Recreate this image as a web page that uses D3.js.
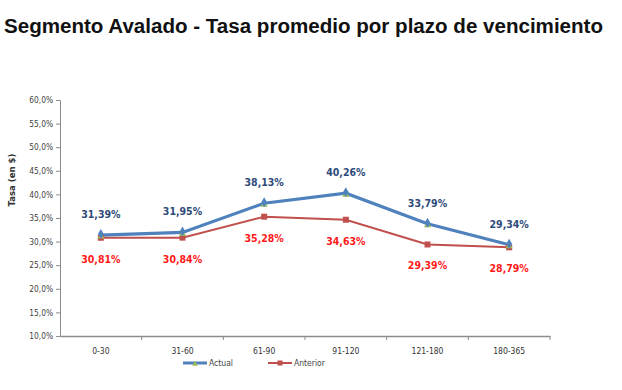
<!DOCTYPE html>
<html><head><meta charset="utf-8">
<script src="https://cdn.jsdelivr.net/npm/d3@7"></script>
<style>body{margin:0;background:#fff}svg{display:block}</style>
</head><body>
<script>
const categories = ["0-30","31-60","61-90","91-120","121-180","180-365"];
const actual = [31.39, 31.95, 38.13, 40.26, 33.79, 29.34];
const anterior = [30.81, 30.84, 35.28, 34.63, 29.39, 28.79];
const yTicks = [10,15,20,25,30,35,40,45,50,55,60];
const seriesNames = ["Actual","Anterior"];

const W=622,H=390;
const svg=d3.select("body").append("svg").attr("width",W).attr("height",H);
const fmt = v => d3.format(".1f")(v).replace(".",",")+"%";
const fmt2 = v => d3.format(".2f")(v).replace(".",",")+"%";

svg.append("text").attr("x",4).attr("y",33).attr("font-family","Liberation Sans, Arial, sans-serif")
  .attr("font-weight","bold").attr("font-size",20).attr("fill","#111")
  .attr("textLength",599).attr("lengthAdjust","spacingAndGlyphs")
  .text("Segmento Avalado - Tasa promedio por plazo de vencimiento");

const x=d3.scaleBand().domain(categories).range([60,550]);
const y=d3.scaleLinear().domain([10,60]).range([336,100]);
const axisCol="#8c8c8c";
const smallFont="Liberation Sans Narrow, DejaVu Sans Condensed, Arial Narrow, sans-serif";

const ya=svg.append("g").attr("transform","translate(60,0)")
  .call(d3.axisLeft(y).tickValues(yTicks).tickSize(4).tickFormat(fmt));
ya.select(".domain").attr("stroke",axisCol);
ya.selectAll(".tick line").attr("stroke",axisCol);
ya.selectAll(".tick text").attr("font-family",smallFont).attr("font-size",8.3).attr("fill","#444").attr("x",-7);

const xa=svg.append("g").attr("transform","translate(0,336)")
  .call(d3.axisBottom(x).tickSize(0));
xa.select(".domain").attr("stroke",axisCol).attr("stroke-width",1.5);
xa.selectAll(".tick text").attr("font-family",smallFont).attr("font-size",8.5).attr("fill","#333").attr("dy",0).attr("y",18);
svg.append("g").selectAll("line").data(categories.slice(1).concat(["__end"]))
  .join("line")
  .attr("x1",d=>d==="__end"?x.range()[1]:x(d)).attr("x2",d=>d==="__end"?x.range()[1]:x(d))
  .attr("y1",336).attr("y2",340).attr("stroke",axisCol);

svg.append("text").attr("transform","translate(15,180) rotate(-90)").attr("text-anchor","middle")
  .attr("font-family",smallFont).attr("font-weight","bold").attr("font-size",9.5).attr("fill","#333")
  .text("Tasa (en $)");

const cx=(d,i)=>x(categories[i])+x.bandwidth()/2;
const line=d3.line().x((d,i)=>cx(d,i)).y(d=>y(d));

svg.append("path").datum(anterior).attr("d",line).attr("fill","none").attr("stroke","#C0504D").attr("stroke-width",2);
svg.append("path").datum(actual).attr("d",line).attr("fill","none").attr("stroke","#4F81BD").attr("stroke-width",3.2);

svg.append("g").selectAll("rect").data(anterior).join("rect")
  .attr("x",(d,i)=>cx(d,i)-3).attr("y",d=>y(d)-3).attr("width",6).attr("height",6).attr("fill","#C0504D");
svg.append("g").selectAll("path").data(actual).join("path")
  .attr("transform",(d,i)=>`translate(${cx(d,i)},${y(d)+1.5})`)
  .attr("d",d3.symbol(d3.symbolTriangle,22)()).attr("fill","#9BBB59");
svg.append("g").selectAll("path").data(actual).join("path")
  .attr("transform",(d,i)=>`translate(${cx(d,i)},${y(d)-1})`)
  .attr("d",d3.symbol(d3.symbolDiamond,28)()).attr("fill","#4F81BD");

const lblFont="Liberation Sans Narrow, DejaVu Sans Condensed, Arial Narrow, sans-serif";
svg.append("g").selectAll("text").data(actual).join("text")
  .attr("x",(d,i)=>cx(d,i)).attr("y",d=>y(d)-17).attr("text-anchor","middle")
  .attr("font-family",lblFont).attr("font-weight","bold").attr("font-size",10.5).attr("fill","#2E4A7A")
  .text(fmt2);
svg.append("g").selectAll("text").data(anterior).join("text")
  .attr("x",(d,i)=>cx(d,i)).attr("y",d=>y(d)+25).attr("text-anchor","middle")
  .attr("font-family",lblFont).attr("font-weight","bold").attr("font-size",10.5).attr("fill","#FF1A1A")
  .text(fmt2);

const leg=[{name:seriesNames[0],c:"#4F81BD",x:183},{name:seriesNames[1],c:"#C0504D",x:268}];
const lg=svg.append("g").selectAll("g").data(leg).join("g").attr("transform",d=>`translate(${d.x},363)`);
lg.append("line").attr("x1",0).attr("x2",24).attr("y1",0).attr("y2",0).attr("stroke",d=>d.c).attr("stroke-width",d=>d.name==="Actual"?3:2);
lg.filter(d=>d.name==="Actual").append("path").attr("transform","translate(12,1)").attr("d",d3.symbol(d3.symbolTriangle,14)()).attr("fill","#9BBB59");
lg.filter(d=>d.name==="Anterior").append("rect").attr("x",9.5).attr("y",-2.5).attr("width",5).attr("height",5).attr("fill","#C0504D");
lg.append("text").attr("x",26).attr("y",3).attr("font-family",smallFont).attr("font-size",8.5).attr("fill","#444").text(d=>d.name);
</script>
</body></html>
